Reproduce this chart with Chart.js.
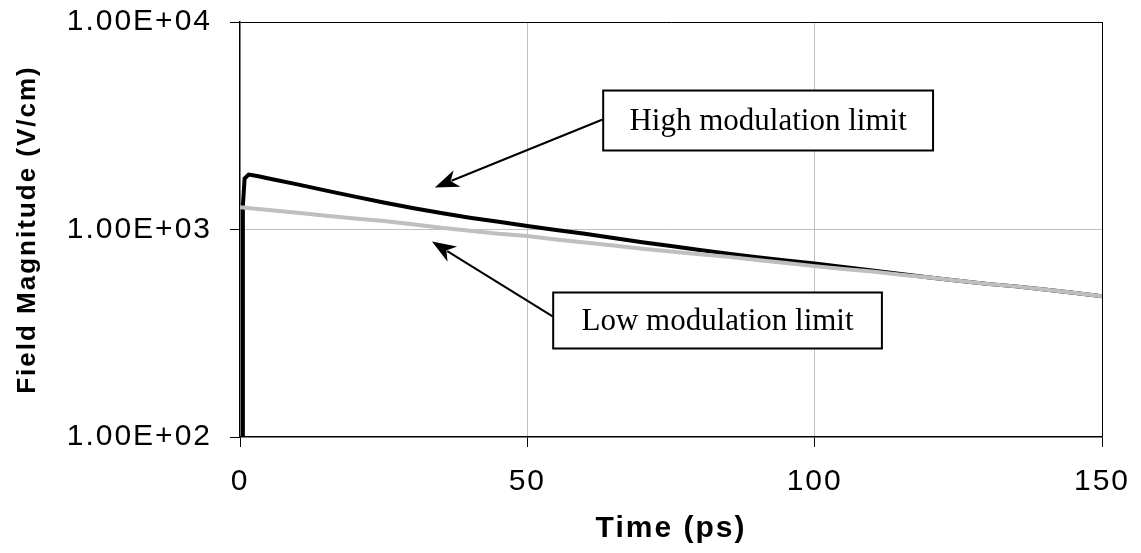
<!DOCTYPE html>
<html>
<head>
<meta charset="utf-8">
<script src="https://cdn.jsdelivr.net/npm/chart.js@4.4.1/dist/chart.umd.min.js"></script>
<style>
  html, body { margin: 0; padding: 0; background: #fff; }
  #wrap { width: 1141px; height: 553px; position: relative; }
</style>
</head>
<body>
<div id="wrap"><canvas id="chart" width="1141" height="553"></canvas></div>
<script>
// values (time in ps, field in V/cm)
const highTime = [0.4, 0.5, 0.8, 1.5, 3, 5, 10, 15, 20, 25, 30, 35, 40, 45, 50, 55, 60, 65, 70, 75, 80, 85, 90, 95, 100, 105, 110, 115, 120, 125, 130, 135, 140, 145, 150];
const highField = [100, 1300, 1760, 1840, 1810, 1760, 1650, 1540, 1440, 1350, 1270, 1200, 1140, 1090, 1040, 995, 955, 910, 868, 832, 797, 765, 735, 710, 686, 660, 634, 610, 587, 566, 547, 532, 514, 496, 477];

const lowTime = [0, 5, 10, 15, 20, 25, 30, 35, 40, 45, 50, 55, 60, 65, 70, 75, 80, 85, 90, 95, 100, 105, 110, 115, 120, 125, 130, 135, 140, 145, 150];
const lowField = [1280, 1240, 1205, 1165, 1130, 1100, 1060, 1020, 985, 955, 930, 895, 866, 838, 808, 783, 760, 738, 713, 690, 666, 645, 627, 606, 587, 566, 547, 532, 514, 496, 477];

const xTicks = [0, 50, 100, 150];
const yTicks = [100, 1000, 10000];

// text boxes + arrows, in data units
const notes = [
  { text: "High modulation limit", t0: 63.2, t1: 120.6, vTop: 4675, vBot: 2403, from: [63.1, 3390], to: [33.9, 1594] },
  { text: "Low modulation limit", t0: 54.5, t1: 111.7, vTop: 497, vBot: 267, from: [54.4, 381], to: [33.4, 875] },
];

const toPoints = (xs, ys) => xs.map((x, i) => ({ x, y: ys[i] }));

const fmtSci = (v) => {
  const e = Math.round(Math.log10(v));
  return "1.00E+" + String(e).padStart(2, "0");
};

const spacingPlugin = {
  id: "spacing",
  beforeDraw(chart) {
    chart.ctx.letterSpacing = "2px";
  },
};

const notesPlugin = {
  id: "notes",
  afterDatasetsDraw(chart) {
    const { ctx, scales } = chart;
    const xs = scales.x, ys = scales.y;
    ctx.save();
    ctx.letterSpacing = "0px";
    notes.forEach((n) => {
      // arrow
      const fx = xs.getPixelForValue(n.from[0]), fy = ys.getPixelForValue(n.from[1]);
      const tx = xs.getPixelForValue(n.to[0]), ty = ys.getPixelForValue(n.to[1]);
      const ang = Math.atan2(ty - fy, tx - fx);
      const headLen = 24, headW = 9;
      const bx = tx - headLen * Math.cos(ang), by = ty - headLen * Math.sin(ang);
      ctx.strokeStyle = "#000";
      ctx.lineWidth = 2;
      ctx.beginPath();
      ctx.moveTo(fx, fy);
      ctx.lineTo(bx + 6 * Math.cos(ang), by + 6 * Math.sin(ang));
      ctx.stroke();
      ctx.fillStyle = "#000";
      ctx.beginPath();
      ctx.moveTo(tx, ty);
      ctx.lineTo(bx - headW * Math.sin(ang), by + headW * Math.cos(ang));
      ctx.lineTo(bx + 7 * Math.cos(ang), by + 7 * Math.sin(ang));
      ctx.lineTo(bx + headW * Math.sin(ang), by - headW * Math.cos(ang));
      ctx.closePath();
      ctx.fill();

      // box
      const x0 = xs.getPixelForValue(n.t0), x1 = xs.getPixelForValue(n.t1);
      const y0 = ys.getPixelForValue(n.vTop), y1 = ys.getPixelForValue(n.vBot);
      ctx.fillStyle = "#fff";
      ctx.fillRect(x0, y0, x1 - x0, y1 - y0);
      ctx.strokeRect(x0, y0, x1 - x0, y1 - y0);
      ctx.fillStyle = "#000";
      ctx.font = '31px "Liberation Serif", "Times New Roman", serif';
      ctx.textAlign = "center";
      ctx.textBaseline = "middle";
      ctx.fillText(n.text, (x0 + x1) / 2, (y0 + y1) / 2 + 1);
    });
    ctx.restore();
  },
};

const tickFont = { family: '"Liberation Sans", Arial, sans-serif', size: 30 };
const titleFont = { family: '"Liberation Sans", Arial, sans-serif', size: 30, weight: "bold" };

new Chart(document.getElementById("chart"), {
  type: "line",
  data: {
    datasets: [
      {
        label: "Low modulation limit",
        data: toPoints(lowTime, lowField),
        borderColor: "#bfbfbf",
        borderWidth: 4,
        pointRadius: 0,
        tension: 0,
        fill: false,
      },
      {
        label: "High modulation limit",
        data: toPoints(highTime, highField),
        borderColor: "#000000",
        borderWidth: 4,
        pointRadius: 0,
        tension: 0,
        fill: false,
      },
    ],
  },
  options: {
    responsive: false,
    maintainAspectRatio: false,
    animation: false,
    layout: { padding: { top: 22, right: 39, left: 0, bottom: 0 } },
    plugins: {
      legend: { display: false },
      tooltip: { enabled: false },
    },
    scales: {
      x: {
        type: "linear",
        min: 0,
        max: 150,
        afterBuildTicks: (s) => { s.ticks = xTicks.map((v) => ({ value: v })); },
        afterFit: (s) => { s.height = 116; s.paddingLeft = 0; s.paddingRight = 0; },
        ticks: { color: "#000", font: tickFont, padding: 17, maxRotation: 0 },
        grid: {
          color: (c) => (c.tick && c.tick.value === 150 ? "#000" : c.tick && c.tick.value === 0 ? "rgba(0,0,0,0)" : "#c0c0c0"),
          lineWidth: 1,
          tickColor: "#000",
          tickLength: 10,
        },
        border: { color: "#000", width: 1.5 },
        title: { display: true, text: "Time (ps)", color: "#000", font: titleFont, padding: { top: 0, bottom: 6 } },
      },
      y: {
        type: "logarithmic",
        min: 100,
        max: 10000,
        afterBuildTicks: (s) => { s.ticks = yTicks.map((v) => ({ value: v })); },
        afterFit: (s) => { s.width = 240; s.paddingTop = 0; s.paddingBottom = 0; },
        ticks: { color: "#000", font: tickFont, padding: 18, callback: (v) => fmtSci(v) },
        grid: {
          color: (c) => (c.tick && c.tick.value === 10000 ? "#000" : c.tick && c.tick.value === 1000 ? "#c0c0c0" : "rgba(0,0,0,0)"),
          lineWidth: 1,
          tickColor: "#000",
          tickLength: 10,
        },
        border: { color: "#000", width: 1.5 },
        title: { display: true, text: "Field Magnitude (V/cm)", color: "#000", font: { ...titleFont, size: 26 }, padding: { top: 12, bottom: 0 } },
      },
    },
  },
  plugins: [spacingPlugin, notesPlugin],
});
</script>
</body>
</html>
